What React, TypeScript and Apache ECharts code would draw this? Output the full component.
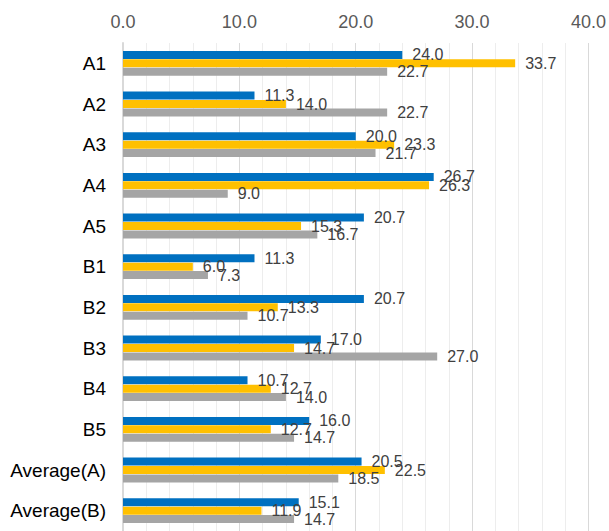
import React, { useEffect, useRef } from "react";
import * as echarts from "echarts";

const categories = ["A1", "A2", "A3", "A4", "A5", "B1", "B2", "B3", "B4", "B5", "Average(A)", "Average(B)"];
const seriesBlue = [24.0, 11.3, 20.0, 26.7, 20.7, 11.3, 20.7, 17.0, 10.7, 16.0, 20.5, 15.1];
const seriesYellow = [33.7, 14.0, 23.3, 26.3, 15.3, 6.0, 13.3, 14.7, 12.7, 12.7, 22.5, 11.9];
const seriesGray = [22.7, 22.7, 21.7, 9.0, 16.7, 7.3, 10.7, 27.0, 14.0, 14.7, 18.5, 14.7];
const xTicks = [0, 10, 20, 30, 40];

const FONT = "'Liberation Sans', Arial, sans-serif";

export default function App() {
  const ref = useRef<HTMLDivElement>(null);
  useEffect(() => {
    if (!ref.current) return;
    const chart = echarts.init(ref.current, undefined, { renderer: "svg" });
    const mk = (name: string, data: number[], color: string) => ({
      name,
      type: "bar",
      data,
      barWidth: 8,
      barGap: "5%",
      barCategoryGap: "40%",
      itemStyle: { color },
      label: {
        show: true,
        position: "right",
        distance: 10,
        color: "#404040",
        fontSize: 16,
        fontFamily: FONT,
        formatter: (p: any) => Number(p.value).toFixed(1),
      },
    });
    chart.setOption({
      animation: false,
      backgroundColor: "#ffffff",
      grid: { left: 123, right: 19, top: 43, height: 492, containLabel: false },
      xAxis: {
        type: "value",
        position: "top",
        min: xTicks[0],
        max: xTicks[xTicks.length - 1],
        interval: 10,
        axisLine: { show: false },
        axisTick: { show: false },
        axisLabel: {
          color: "#595959",
          fontSize: 18,
          fontFamily: FONT,
          margin: 12,
          formatter: (v: number) => v.toFixed(1),
        },
        splitLine: { show: true, lineStyle: { color: "#D9D9D9", width: 1 } },
        minorTick: { show: false, splitNumber: 5 },
        minorSplitLine: { show: true, lineStyle: { color: "#EDEDED", width: 1 } },
      },
      yAxis: {
        type: "category",
        data: categories,
        inverse: true,
        axisLine: { show: true, lineStyle: { color: "#D9D9D9", width: 2 } },
        axisTick: { show: false },
        axisLabel: { color: "#000000", fontSize: 19, fontFamily: FONT, margin: 17 },
      },
      series: [
        mk("S1", seriesBlue, "#0070C0"),
        mk("S2", seriesYellow, "#FFC000"),
        mk("S3", seriesGray, "#A5A5A5"),
      ],
    });
    return () => chart.dispose();
  }, []);
  return (
    <div
      ref={ref}
      style={{ position: "fixed", left: 0, top: 0, width: 609, height: 531, background: "#fff" }}
    />
  );
}
